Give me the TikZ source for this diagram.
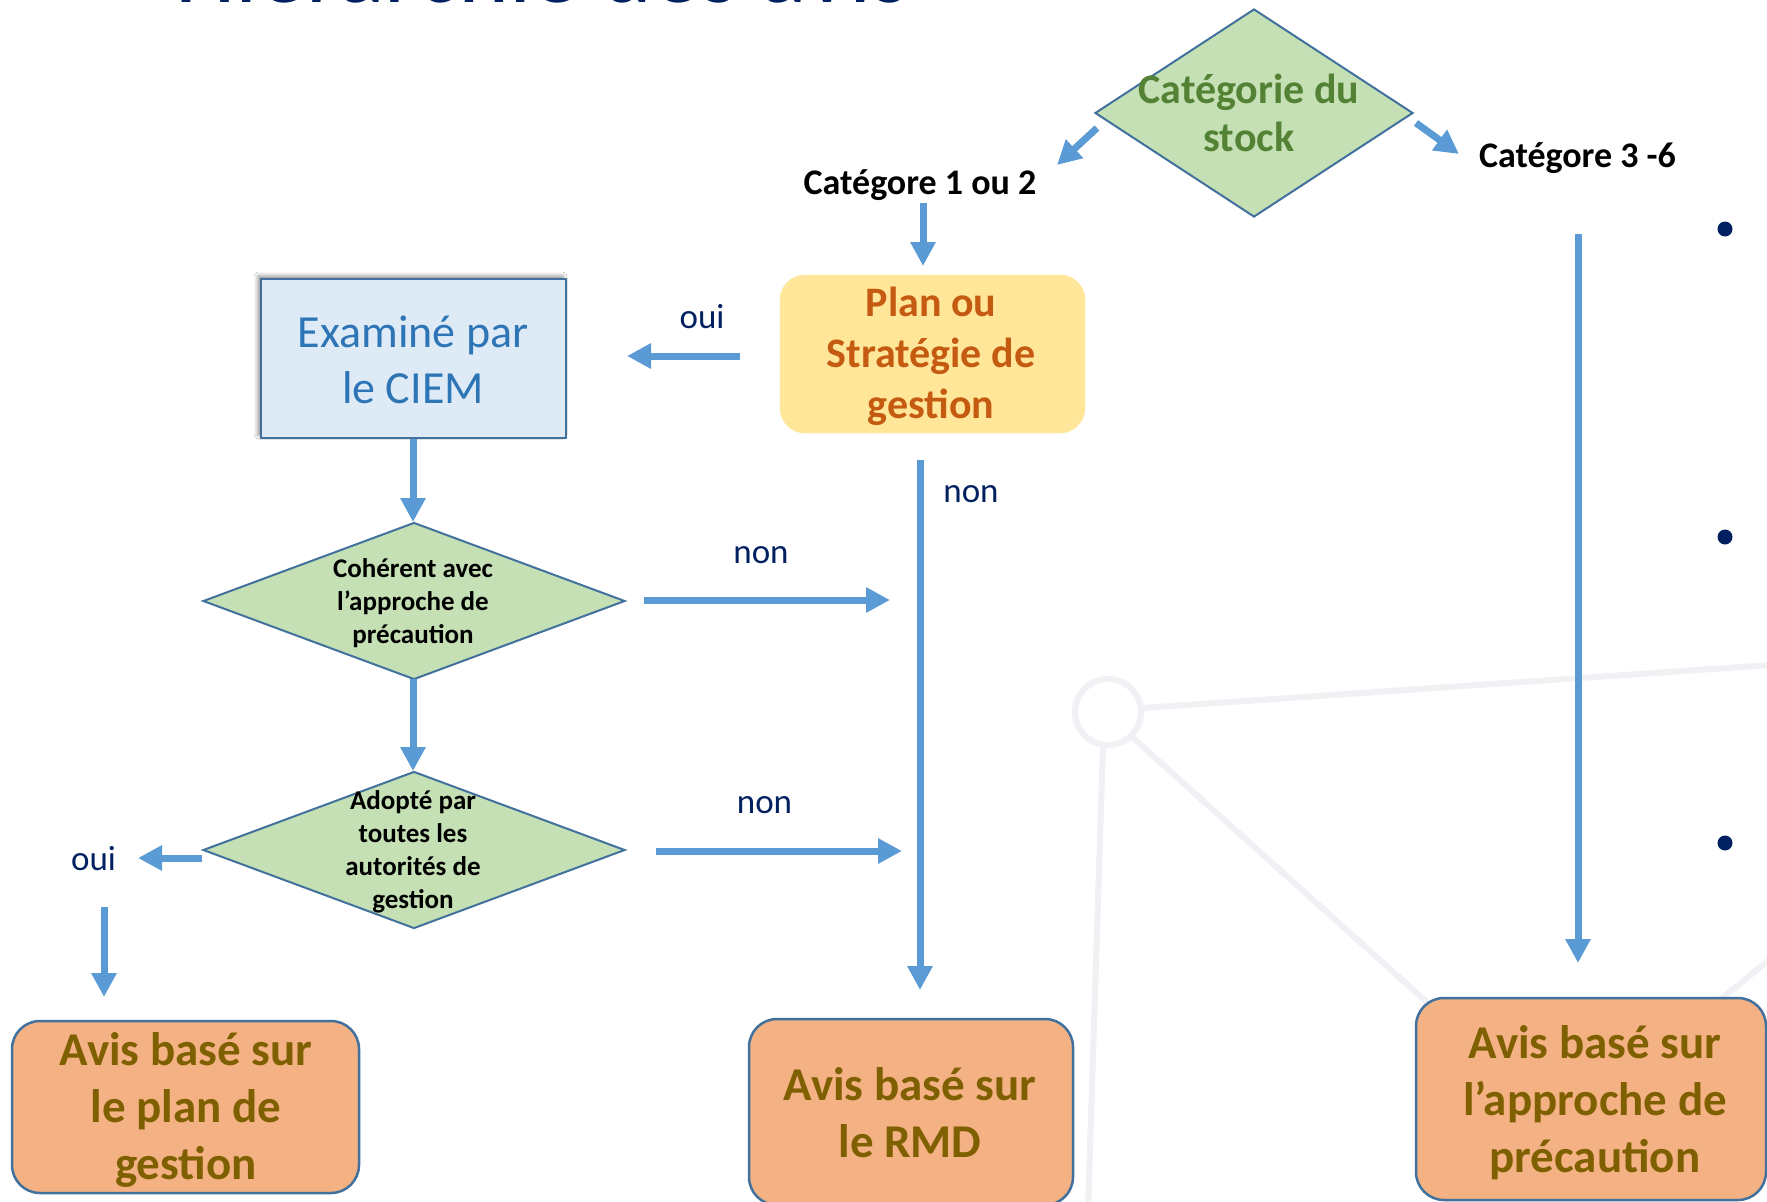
\documentclass[tikz,border=0pt]{standalone}
\usepackage{fontspec}
\setmainfont{Carlito}
\usetikzlibrary{arrows.meta,shapes.geometric,shadows.blur}

\definecolor{arrblue}{HTML}{5B9BD5}
\definecolor{bordc}{HTML}{41719C}
\definecolor{diamfill}{HTML}{C5E0B4}
\definecolor{catgreen}{HTML}{548235}
\definecolor{boxfill}{HTML}{F4B183}
\definecolor{boxtext}{HTML}{7F6000}
\definecolor{planfill}{HTML}{FFE699}
\definecolor{plantext}{HTML}{C55A11}
\definecolor{ciemfill}{HTML}{DEEBF7}
\definecolor{ciemtext}{HTML}{2E75B6}
\definecolor{navy}{HTML}{002060}
\definecolor{bgline}{HTML}{F0F1F5}

\newcommand\fntBox{\fontsize{47}{57}\selectfont\bfseries}
\newcommand\fntCat{\fontsize{42}{48}\selectfont\bfseries}
\newcommand\fntLab{\fontsize{36}{43}\selectfont\bfseries}
\newcommand\fntYN{\fontsize{35}{42}\selectfont}
\newcommand\fntCiem{\fontsize{46}{56}\selectfont}
\newcommand\fntPlan{\fontsize{42}{51}\selectfont\bfseries}
\newcommand\fntDiam{\fontsize{27}{33}\selectfont\bfseries}

\begin{document}
\begin{tikzpicture}[x=1pt,y=-1pt,
  arr/.style={draw=arrblue, line width=7pt, -{Triangle[length=24pt,width=24pt]}},
  diam/.style={diamond, draw=bordc, line width=2pt, fill=diamfill, inner sep=0pt},
  avis/.style={rectangle, rounded corners=28pt, draw=bordc, line width=2.5pt, fill=boxfill, inner sep=0pt},
  txt/.style={inner sep=0pt, align=center},
  yn/.style={inner sep=0pt, anchor=base, text=navy, font=\fntYN},
  lab/.style={inner sep=0pt, anchor=base, text=black, font=\fntLab},
  bgl/.style={draw=bgline, line width=6pt}
]
\useasboundingbox (0,0) rectangle (1767,1202);
\clip (0,0) rectangle (1767,1202);
\fill[white] (0,0) rectangle (1767,1202);

% background network
\draw[bgl] (1142,708) -- (1800,663);
\draw[bgl] (1131,736) -- (1500,1068);
\draw[bgl] (1103,746) -- (1088,1210);
\draw[bgl] (1690,1024) -- (1800,935);
\draw[bgl] (1108,712) circle (33pt);

% title (cut off)
\node[inner sep=0pt, anchor=base, text=navy, font=\fontsize{97}{100}\selectfont] (title) at (542.5,2.5) {Hiérarchie des avis};

% bullets
\fill[navy] (1725,229) circle (7.5pt);
\fill[navy] (1725,537) circle (7.5pt);
\fill[navy] (1725,843) circle (7.5pt);

% shapes
\node[diam, minimum width=318pt, minimum height=208pt] (cat) at (1254,113) {};
\node[txt, text=catgreen, font=\fntCat] (tcat) at (1249,117.5) {Catégorie du\strut\\stock\strut};

\node[lab] (cat12) at (920,194) {Catégore 1 ou 2};
\node[lab] (cat36) at (1577.5,167) {Catégore 3 -6};

\node[rectangle, rounded corners=25pt, draw=planfill, fill=planfill, minimum width=305pt, minimum height=158pt, inner sep=0pt] (plan) at (932.5,354) {};
\node[txt, text=plantext, font=\fntPlan] (tplan) at (931,357) {Plan ou\strut\\Stratégie de\strut\\gestion\strut};

\node[rectangle, draw=bordc, line width=1.5pt, fill=ciemfill, minimum width=305pt, minimum height=159pt, inner sep=0pt,
  blur shadow={shadow xshift=-3pt, shadow yshift=3pt, shadow blur radius=4pt, shadow opacity=45}] (ciem) at (413.5,358.5) {};
\node[txt, text=ciemtext, font=\fntCiem] (tciem) at (413,363.8) {Examiné par\strut\\le CIEM\strut};

\node[diam, minimum width=422pt, minimum height=157pt] (coh) at (414,601) {};
\node[txt, font=\fntDiam] (tcoh) at (413,603.4) {Cohérent avec\strut\\l’approche de\strut\\précaution\strut};

\node[diam, minimum width=422pt, minimum height=157pt] (adp) at (414,850) {};
\node[txt, font=\fntDiam] (tadp) at (413,851.9) {Adopté par\strut\\toutes les\strut\\autorités de\strut\\gestion\strut};

\node[avis, minimum width=347pt, minimum height=172pt] (bplan) at (185.5,1107) {};
\node[txt, text=boxtext, font=\fntBox] (tbplan) at (186,1111) {Avis basé sur\strut\\le plan de\strut\\gestion\strut};

\node[avis, minimum width=324pt, minimum height=186pt] (brmd) at (911,1112) {};
\node[txt, text=boxtext, font=\fntBox] (tbrmd) at (910,1117.5) {Avis basé sur\strut\\le RMD\strut};

\node[avis, minimum width=350pt, minimum height=202pt] (bpa) at (1591,1099) {};
\node[txt, text=boxtext, font=\fntBox] (tbpa) at (1595,1104) {Avis basé sur\strut\\l’approche de\strut\\précaution\strut};

% yes / no labels
\node[yn] (oui1) at (702,328) {oui};
\node[yn] (oui2) at (93.5,870) {oui};
\node[yn] (non0) at (971,502) {non};
\node[yn] (non1) at (761,563) {non};
\node[yn] (non2) at (764.5,813) {non};

% connector end points
\coordinate (c1s) at (1097,128);  \coordinate (c1e) at (1057,165);
\coordinate (c2s) at (1416,123);  \coordinate (c2e) at (1459,154);
\coordinate (c3s) at (923,203);   \coordinate (c3e) at (923,266);
\coordinate (c4s) at (740,356);   \coordinate (c4e) at (627,356);
\coordinate (c5s) at (413,439);   \coordinate (c5e) at (413,522);
\coordinate (c6s) at (413,679);   \coordinate (c6e) at (413,771);
\coordinate (c7s) at (644,600);   \coordinate (c7e) at (890,600);
\coordinate (c8s) at (656,851);   \coordinate (c8e) at (902,851);
\coordinate (c9s) at (202,858);   \coordinate (c9e) at (138,858);
\coordinate (c10s) at (104,907);  \coordinate (c10e) at (104,997);
\coordinate (c11s) at (920,460);  \coordinate (c11e) at (920,990);
\coordinate (c12s) at (1578,234); \coordinate (c12e) at (1578,963);

\draw[arr] (c1s) -- (c1e);
\draw[arr] (c2s) -- (c2e);
\draw[arr] (c3s) -- (c3e);
\draw[arr] (c4s) -- (c4e);
\draw[arr] (c5s) -- (c5e);
\draw[arr] (c6s) -- (c6e);
\draw[arr] (c7s) -- (c7e);
\draw[arr] (c8s) -- (c8e);
\draw[arr] (c9s) -- (c9e);
\draw[arr] (c10s) -- (c10e);
\draw[arr] (c11s) -- (c11e);
\draw[arr] (c12s) -- (c12e);
\end{tikzpicture}
\end{document}
